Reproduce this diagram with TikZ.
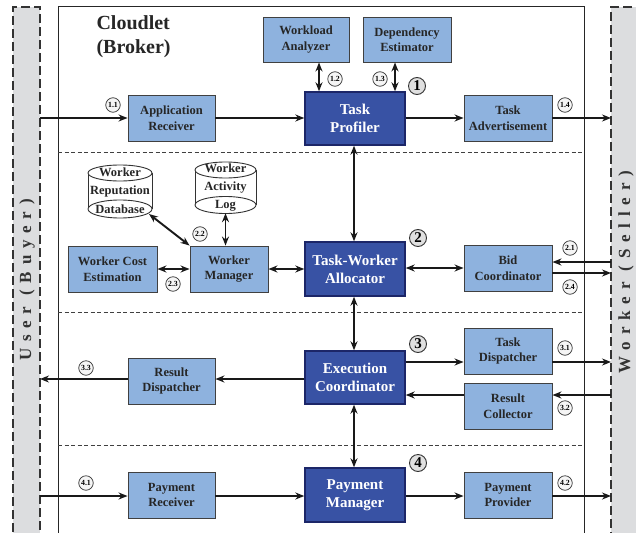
\documentclass[tikz,border=0pt]{standalone}
\usepackage{fontspec}
\setmainfont{Liberation Serif}
\newfontfamily\spacedfont[LetterSpace=40]{Liberation Serif}
\usetikzlibrary{arrows.meta}

\definecolor{lightbox}{RGB}{142,178,222}
\definecolor{darkbox}{RGB}{56,82,164}
\definecolor{darkedge}{RGB}{28,38,104}
\definecolor{boxtext}{RGB}{38,38,38}
\definecolor{barfill}{RGB}{220,221,223}

\begin{document}
\begin{tikzpicture}[x=1pt,y=-1pt,
  sub/.style={draw=black!75,line width=0.9pt,fill=lightbox,text=boxtext,align=center,
    font=\fontsize{12.5}{15.5}\selectfont\bfseries,inner sep=0pt},
  main/.style={draw=darkedge,line width=1.4pt,fill=darkbox,text=white,align=center,
    font=\fontsize{15}{18}\selectfont\bfseries,minimum width=100,minimum height=53,inner sep=0pt},
  dbtext/.style={align=center,text=boxtext,font=\fontsize{12.5}{18.3}\selectfont\bfseries,inner sep=0pt},
  dbline/.style={draw=black!80,line width=0.9pt,fill=white},
  phase/.style={circle,draw=black!80,line width=0.9pt,fill=black!12,minimum size=17,inner sep=0pt,
    font=\fontsize{15}{15}\selectfont\bfseries},
  step label/.style={circle,draw=black!80,line width=0.7pt,fill=black!4,minimum size=14.5,inner sep=0pt,
    font=\fontsize{7.8}{7.8}\selectfont\bfseries},
  flow/.style={line width=1.9pt,black!90,-{Stealth[length=9pt,width=7pt]}},
  both/.style={line width=1.9pt,black!90,{Stealth[length=9pt,width=7pt]}-{Stealth[length=9pt,width=7pt]}},
  sep/.style={line width=0.7pt,black!75,dash pattern=on 4pt off 2.5pt},
  bardash/.style={line width=1.3pt,black!80,dash pattern=on 9pt off 4pt}]

\clip (0,0) rectangle (636,532);

% buyer and seller sides
\fill[barfill] (13,7) rectangle (40,545);
\draw[bardash] (13,545) -- (13,7) -- (40,7) -- (40,545);
\fill[barfill] (611,7) rectangle (645,545);
\draw[bardash] (645,7) -- (611,7) -- (611,545);
\node[rotate=90,font=\spacedfont\fontsize{17}{17}\selectfont\bfseries,text=black!80] (buyer) at (27,280) {User (Buyer)};
\node[rotate=90,font=\spacedfont\fontsize{17}{17}\selectfont\bfseries,text=black!80] (seller) at (626,272) {Worker (Seller)};
\coordinate (usr) at (40,0);
\coordinate (wrk) at (611,0);

% cloudlet
\draw[line width=1pt,black!85] (58,7) rectangle (584,545);
\node[anchor=west,align=left,font=\fontsize{20}{24}\selectfont\bfseries,text=black!85] (cloudlet) at (93,37) {Cloudlet\\(Broker)};
\draw[sep] (58,152.5) -- (584,152.5);
\draw[sep] (58,312) -- (584,312);
\draw[sep] (58,445) -- (584,445);

% phase 1
\node[sub,minimum width=86,minimum height=45] (wa) at (306,39.5) {Workload\\Analyzer};
\node[sub,minimum width=88,minimum height=45] (de) at (407,39.5) {Dependency\\Estimator};
\node[sub,minimum width=87,minimum height=46] (ar) at (171.5,118) {Application\\Receiver};
\node[main] (tp) at (355,118.5) {Task\\Profiler};
\node[sub,minimum width=88,minimum height=46] (ta) at (508,118) {Task\\Advertisement};

% phase 2
\fill[white] (88,173) rectangle (152,209);
\draw[dbline] (88,173) -- (88,209) (152,173) -- (152,209);
\draw[dbline] (120,209) ellipse [x radius=32, y radius=9];
\draw[dbline] (120,173) ellipse [x radius=32, y radius=8];
\node[dbtext,minimum width=64,minimum height=53] (rdb) at (120,190.5) {Worker\\Reputation\\Database};
\fill[white] (195,170) rectangle (256,205);
\draw[dbline] (195,170) -- (195,205) (256,170) -- (256,205);
\draw[dbline] (225.5,205) ellipse [x radius=30.5, y radius=8.5];
\draw[dbline] (225.5,170) ellipse [x radius=30.5, y radius=8];
\node[dbtext,minimum width=61,minimum height=51] (alog) at (225.5,187.5) {Worker\\Activity\\Log};
\node[sub,minimum width=89,minimum height=46] (wce) at (112.5,269) {Worker Cost\\Estimation};
\node[sub,minimum width=78,minimum height=46] (wm) at (229,269) {Worker\\Manager};
\node[main,minimum height=54] (twa) at (355,269) {Task-Worker\\Allocator};
\node[sub,minimum width=88,minimum height=46] (bc) at (508,268) {Bid\\Coordinator};

% phase 3
\node[main] (ec) at (355,377.5) {Execution\\Coordinator};
\node[sub,minimum width=88,minimum height=46] (td) at (508,351) {Task\\Dispatcher};
\node[sub,minimum width=88,minimum height=46] (rc) at (508,406) {Result\\Collector};
\node[sub,minimum width=87,minimum height=46] (rd) at (171.5,381) {Result\\Dispatcher};

% phase 4
\node[main,minimum height=54] (pm) at (355,495) {Payment\\Manager};
\node[sub,minimum width=87,minimum height=46] (pr) at (171.5,495) {Payment\\Receiver};
\node[sub,minimum width=88,minimum height=46] (pp) at (508,495) {Payment\\Provider};

% phase numbers
\node[phase] (p1) at (417,86) {1};
\node[phase] (p2) at (418,238) {2};
\node[phase] (p3) at (418,344) {3};
\node[phase] (p4) at (418,463) {4};

% step labels
\node[step label] (s11) at (113,105) {1.1};
\node[step label] (s12) at (335,79) {1.2};
\node[step label] (s13) at (380,79) {1.3};
\node[step label] (s14) at (565,105) {1.4};
\node[step label] (s21) at (570,248) {2.1};
\node[step label] (s22) at (200,234) {2.2};
\node[step label] (s23) at (173,284) {2.3};
\node[step label] (s24) at (570,287) {2.4};
\node[step label] (s31) at (565,348) {3.1};
\node[step label] (s32) at (565,408) {3.2};
\node[step label] (s33) at (86,368) {3.3};
\node[step label] (s41) at (86,483) {4.1};
\node[step label] (s42) at (565,483) {4.2};

% connectors, phase 1
\draw[flow] (usr |- ar.west) -- (ar.west);
\draw[flow] (ar.east) -- (tp.west |- ar.east);
\draw[flow] (tp.east |- ta.west) -- (ta.west);
\draw[flow] (ta.east) -- (wrk |- ta.east);
\draw[both] ([xshift=13pt]wa.south) -- ([xshift=13pt]wa.south |- tp.north);
\draw[both] ([xshift=-12pt]de.south) -- ([xshift=-12pt]de.south |- tp.north);
\draw[both] ([xshift=-1pt]tp.south) -- ([xshift=-1pt]twa.north);

% connectors, phase 2
\coordinate (rdbend) at (149,214);
\draw[both] (wm.north west) -- (rdbend);
\draw[both] (alog.south) -- (alog.south |- wm.north);
\draw[both] (wce.east |- wm.west) -- (wm.west);
\draw[both] (wm.east) -- (twa.west |- wm.east);
\draw[both] (twa.east |- bc.west) -- (bc.west);
\coordinate (bcin) at ([yshift=6pt]bc.east);
\coordinate (bcout) at ([yshift=-5pt]bc.east);
\draw[flow] (wrk |- bcin) -- (bcin);
\draw[flow] (bcout) -- (wrk |- bcout);
\draw[both] ([xshift=-1pt]twa.south) -- ([xshift=-1pt]ec.north);

% connectors, phase 3
\coordinate (tdin) at ([yshift=-11pt]td.west);
\coordinate (rcout) at ([yshift=11pt]rc.west);
\draw[flow] (ec.east |- tdin) -- (tdin);
\draw[flow] ([yshift=-11pt]td.east) -- (wrk |- tdin);
\draw[flow] (wrk |- rcout) -- ([yshift=11pt]rc.east);
\draw[flow] (rcout) -- (ec.east |- rcout);
\coordinate (rdin) at ([yshift=2pt]rd.east);
\draw[flow] (ec.west |- rdin) -- (rdin);
\draw[flow] ([yshift=2pt]rd.west) -- (usr |- rdin);
\draw[both] ([xshift=-1pt]ec.south) -- ([xshift=-1pt]pm.north);

% connectors, phase 4
\coordinate (pmin) at ([yshift=-1pt]pr.east);
\draw[flow] (usr |- pmin) -- ([yshift=-1pt]pr.west);
\draw[flow] (pmin) -- (pm.west |- pmin);
\draw[flow] (pm.east |- pmin) -- ([yshift=-1pt]pp.west);
\draw[flow] ([yshift=-1pt]pp.east) -- (wrk |- pmin);

\end{tikzpicture}
\end{document}
